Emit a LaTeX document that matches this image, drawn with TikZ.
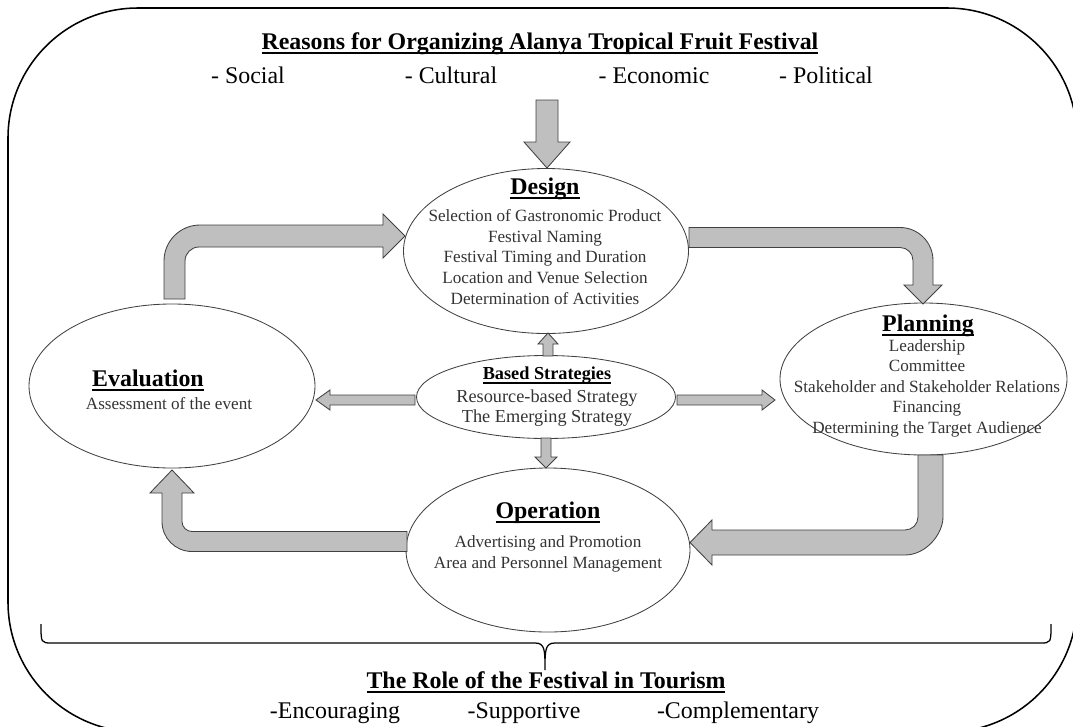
\documentclass[tikz,border=0pt]{standalone}
\usepackage{fontspec}
\setmainfont{Liberation Serif}
\usetikzlibrary{shapes.geometric}
\newcommand{\hdline}[1]{\setbox0=\hbox{#1}\rlap{\vrule width\wd0 height -2.2pt depth 3.4pt}\box0}

\begin{document}
\begin{tikzpicture}[x=0.25mm, y=-0.25mm,
  ellip/.style={ellipse, draw=black!75, line width=0.6pt, inner sep=0pt},
  head/.style={anchor=base, font=\fontsize{17}{20}\selectfont\bfseries},
  item/.style={anchor=base, font=\fontsize{17}{20}\selectfont},
  body/.style={align=center, font=\fontsize{12.2}{14.6}\selectfont, text=black!80},
  blockarr/.style={draw=black!75, fill=black!25, line width=0.6pt}
]
\useasboundingbox (0,0) rectangle (1073,726);

% frame
\draw[line width=1.1pt, rounded corners=32.5mm] (8,8) rectangle (1077,732);

% reasons
\node[head] (title) at (540,49) {\hdline{Reasons for Organizing Alanya Tropical Fruit Festival}};
\node[item] (social) at (248,83) {- Social};
\node[item] (cultural) at (451,83) {- Cultural};
\node[item] (economic) at (654,83) {- Economic};
\node[item] (political) at (826,83) {- Political};

% stages
\node[ellip, minimum width=71.25mm, minimum height=41.25mm] (design) at (546,251) {};
\node[ellip, minimum width=71.5mm, minimum height=41mm] (evaluation) at (172,386) {};
\node[ellip, minimum width=71.75mm, minimum height=38mm] (planning) at (923.5,379) {};
\node[ellip, minimum width=64.75mm, minimum height=20.75mm] (based) at (546,397) {};
\node[ellip, minimum width=71mm, minimum height=41mm] (operation) at (548,550) {};

\node[head] (designhead) at (545,194) {\hdline{Design}};
\node[body] (designtxt) at (545,257) {Selection of Gastronomic Product\\Festival Naming\\Festival Timing and Duration\\Location and Venue Selection\\Determination of Activities};
\node[head] (evalhead) at (148,386) {\hdline{Evaluation}};
\node[body, anchor=base] (evaltxt) at (169,409) {Assessment of the event};
\node[head] (planhead) at (928,331) {\hdline{Planning}};
\node[body] (plantxt) at (927,388) {Leadership\\Committee\\Stakeholder and Stakeholder Relations\\Financing\\Determining the Target Audience};
\node[head, font=\fontsize{13}{15}\selectfont\bfseries] (basedhead) at (547,379) {\hdline{Based Strategies}};
\node[body, font=\fontsize{13}{14.6}\selectfont] (basedtxt) at (547,408) {Resource-based Strategy\\The Emerging Strategy};
\node[head] (opehead) at (548,518) {\hdline{Operation}};
\node[body] (opetxt) at (548,554) {Advertising and Promotion\\Area and Personnel Management};

% straight arrows
\draw[blockarr] (536,100) -- (536,142) -- (524,142) -- (547,168) -- (570,142) -- (558,142) -- (558,100) -- cycle;
\draw[blockarr] (543,356) -- (543,344) -- (538,344) -- (548,333) -- (558,344) -- (553,344) -- (553,356) -- cycle;
\draw[blockarr] (541,438) -- (541,457) -- (535,457) -- (546,468) -- (557,457) -- (551,457) -- (551,438) -- cycle;
\draw[blockarr] (415,395) -- (330,395) -- (330,390) -- (316,400) -- (330,410) -- (330,405) -- (415,405) -- cycle;
\draw[blockarr] (677,395) -- (762,395) -- (762,390) -- (775,400) -- (762,410) -- (762,405) -- (677,405) -- cycle;

% bent arrows
\draw[blockarr] (164,299) -- (164,261) .. controls (164,241.1) and (180.1,225) .. (200,225) -- (383,225) -- (383,214) -- (405,236) -- (383,258) -- (383,247) -- (199,247) .. controls (191.3,247) and (185,253.3) .. (185,261) -- (185,299) -- cycle;
\draw[blockarr] (689,227.5) -- (900,227.5) .. controls (918.2,227.5) and (933,242.3) .. (933,260.5) -- (933,285) -- (942,285) -- (923,304) -- (904,285) -- (913,285) -- (913,260.5) .. controls (913,253.3) and (907.2,247.5) .. (900,247.5) -- (689,247.5) -- cycle;
\draw[blockarr] (918,455) -- (918,517) .. controls (918,524.2) and (912.2,530) .. (905,530) -- (712,530) -- (712,520) -- (690,542.5) -- (712,565) -- (712,555) -- (905,555) .. controls (926,555) and (943,534) .. (943,517) -- (943,455) -- cycle;
\draw[blockarr] (407,531.5) -- (192,531.5) .. controls (186.5,531.5) and (182,527) .. (182,521.5) -- (182,493) -- (194,493) -- (172,470) -- (150,493) -- (162,493) -- (162,521.5) .. controls (162,538.1) and (175.4,551.5) .. (192,551.5) -- (407,551.5) -- cycle;

% tourism
\draw[line width=0.9pt] (41,624) .. controls (41,643) .. (52,643) -- (535,643) .. controls (545,643) and (545,650) .. (545,670) .. controls (545,650) and (545,643) .. (555,643) -- (1040,643) .. controls (1051,643) .. (1051,624);
\node[head] (role) at (546,688) {\hdline{The Role of the Festival in Tourism}};
\node[item] (encour) at (335,718) {-Encouraging};
\node[item] (support) at (524,718) {-Supportive};
\node[item] (compl) at (738,718) {-Complementary};

\end{tikzpicture}
\end{document}
